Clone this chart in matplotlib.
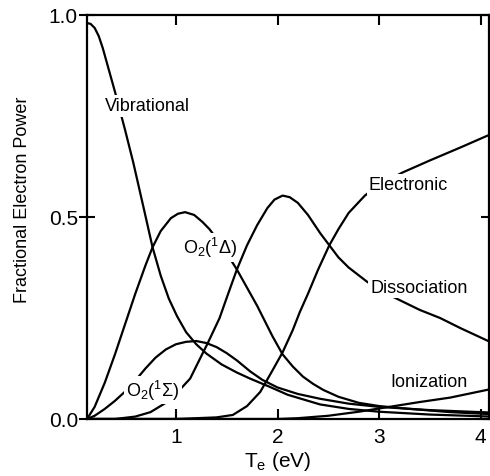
import numpy as np
import matplotlib
matplotlib.use("Agg")
import matplotlib.pyplot as plt

plt.rcParams['font.family'] = ['Liberation Sans', 'DejaVu Sans']
plt.rcParams['mathtext.fontset'] = 'custom'
plt.rcParams['mathtext.rm'] = 'Liberation Sans'
plt.rcParams['mathtext.it'] = 'Liberation Sans:italic'

# Fractional electron power vs electron temperature
vib_x = [0.125, 0.16, 0.20, 0.24, 0.28, 0.32, 0.40, 0.50, 0.58, 0.68, 0.77, 0.85, 0.93,
         1.01, 1.10, 1.20, 1.30, 1.45, 1.60, 1.73, 1.92, 2.10, 2.42, 2.70, 3.00, 3.50, 4.10]
vib_y = [0.980, 0.978, 0.968, 0.948, 0.918, 0.882, 0.810, 0.715, 0.635, 0.525, 0.425, 0.355, 0.298,
         0.255, 0.215, 0.185, 0.162, 0.135, 0.115, 0.100, 0.080, 0.060, 0.036, 0.025, 0.018, 0.011, 0.006]

d1_x = [0.125, 0.20, 0.30, 0.40, 0.50, 0.60, 0.70, 0.77, 0.85, 0.95, 1.02, 1.09, 1.18,
        1.26, 1.33, 1.42, 1.50, 1.60, 1.70, 1.80, 1.86, 1.95, 2.05, 2.15, 2.25, 2.35,
        2.45, 2.60, 2.80, 3.00, 3.30, 3.70, 4.10]
d1_y = [0.0, 0.030, 0.090, 0.160, 0.235, 0.310, 0.380, 0.425, 0.465, 0.497, 0.508, 0.512, 0.505,
        0.488, 0.470, 0.440, 0.410, 0.370, 0.325, 0.280, 0.250, 0.205, 0.160, 0.130, 0.105, 0.087,
        0.072, 0.055, 0.040, 0.032, 0.025, 0.017, 0.012]

s1_x = [0.125, 0.20, 0.30, 0.40, 0.50, 0.60, 0.70, 0.80, 0.90, 1.00, 1.10, 1.20, 1.30,
        1.40, 1.50, 1.60, 1.73, 1.85, 2.00, 2.20, 2.42, 2.70, 3.00, 3.50, 4.10]
s1_y = [0.0, 0.008, 0.025, 0.045, 0.068, 0.095, 0.125, 0.152, 0.172, 0.185, 0.191, 0.193, 0.188,
        0.178, 0.163, 0.145, 0.118, 0.097, 0.078, 0.062, 0.050, 0.038, 0.030, 0.022, 0.016]

dis_x = [0.125, 0.40, 0.60, 0.75, 0.90, 1.00, 1.14, 1.27, 1.31, 1.43, 1.50, 1.60, 1.70,
         1.80, 1.90, 1.97, 2.05, 2.12, 2.20, 2.30, 2.42, 2.51, 2.60, 2.70, 2.88, 3.00,
         3.18, 3.40, 3.60, 3.80, 4.10]
dis_y = [0.0, 0.0, 0.006, 0.017, 0.040, 0.062, 0.100, 0.166, 0.186, 0.250, 0.300, 0.370, 0.430,
         0.480, 0.522, 0.543, 0.553, 0.549, 0.535, 0.505, 0.460, 0.430, 0.400, 0.375, 0.340, 0.320,
         0.297, 0.270, 0.250, 0.225, 0.190]

ele_x = [0.125, 1.00, 1.20, 1.40, 1.56, 1.70, 1.83, 1.95, 2.05, 2.15, 2.22, 2.30, 2.40,
         2.51, 2.60, 2.70, 2.86, 3.00, 3.23, 3.50, 3.80, 4.10]
ele_y = [0.0, 0.0, 0.002, 0.004, 0.010, 0.032, 0.067, 0.120, 0.165, 0.220, 0.265, 0.310, 0.370,
         0.430, 0.470, 0.510, 0.553, 0.580, 0.610, 0.640, 0.672, 0.705]

ion_x = [0.125, 2.00, 2.20, 2.50, 2.80, 3.10, 3.40, 3.70, 4.10]
ion_y = [0.0, 0.0, 0.002, 0.008, 0.018, 0.030, 0.042, 0.053, 0.074]

fig = plt.figure(figsize=(4.9, 4.77), dpi=100)
ax = fig.add_axes([0.1776, 0.1195, 0.820, 0.847])

for xs, ys in [(vib_x, vib_y), (d1_x, d1_y), (s1_x, s1_y),
               (dis_x, dis_y), (ele_x, ele_y), (ion_x, ion_y)]:
    ax.plot(xs, ys, color='black', lw=1.6, solid_joinstyle='round')

box = dict(facecolor='white', edgecolor='none', pad=1.5)
ax.text(0.30, 0.775, 'Vibrational', fontsize=13, ha='left', va='center', bbox=box)
ax.text(1.07, 0.425, r'O$_2$($^1\Delta$)', fontsize=13, ha='left', va='center', bbox=box)
ax.text(0.775, 0.072, r'O$_2$($^1\Sigma$)', fontsize=13, ha='center', va='center', bbox=box)
ax.text(3.29, 0.58, 'Electronic', fontsize=13, ha='center', va='center', bbox=box)
ax.text(3.39, 0.325, 'Dissociation', fontsize=13, ha='center', va='center', bbox=box)
ax.text(3.49, 0.094, 'Ionization', fontsize=13, ha='center', va='center', bbox=box)

ax.set_xlim(0.125, 4.08)
ax.set_ylim(0, 1.0)
ax.set_xticks([1, 2, 3, 4])
ax.set_yticks([0.0, 0.5, 1.0])
ax.set_yticklabels(['0.0', '0.5', '1.0'])
ax.tick_params(axis='x', direction='in', top=True, length=7, width=1.5, labelsize=15, pad=6)
ax.tick_params(axis='y', direction='inout', length=11, width=1.5, labelsize=15, pad=1)
ax.tick_params(axis='y', right=True)
for side in ['left', 'right', 'top', 'bottom']:
    ax.spines[side].set_linewidth(1.6)

ax.set_xlabel(r'T$_\mathrm{e}$ (eV)', fontsize=15)
ax.set_ylabel('Fractional Electron Power', fontsize=13)
ax.xaxis.set_label_coords(0.475, -0.075)
ax.yaxis.set_label_coords(-0.14, 0.545)

fig.savefig('out.png', dpi=100)
